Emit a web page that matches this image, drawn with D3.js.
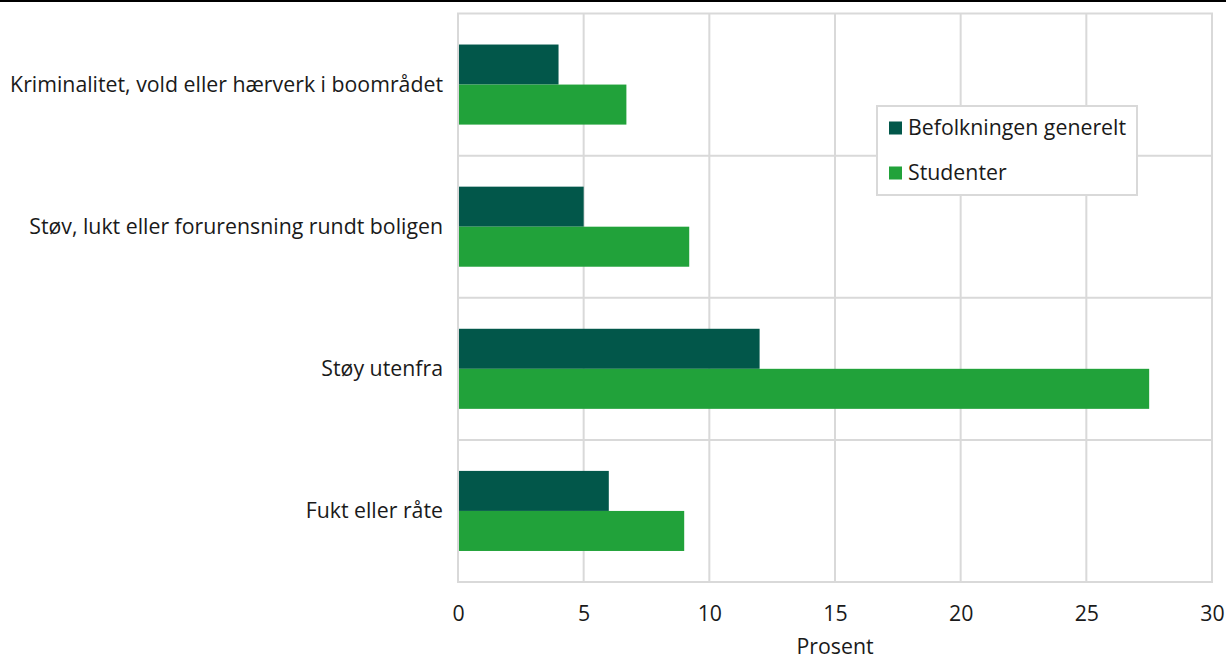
<!DOCTYPE html>
<html><head><meta charset="utf-8">
<script src="https://cdn.jsdelivr.net/npm/d3@7"></script>
<style>
html,body{margin:0;padding:0;background:#fff;}
svg{display:block;font-family:"Open Sans",sans-serif;}
</style></head>
<body><svg id="c" width="1226" height="659"></svg>
<script>
const categories = ["Kriminalitet, vold eller hærverk i boområdet","Støv, lukt eller forurensning rundt boligen","Støy utenfra","Fukt eller råte"];
const seriesNames = ["Befolkningen generelt","Studenter"];
const befolkning = [4.0, 5.0, 12.0, 6.0];
const studenter = [6.7, 9.2, 27.5, 9.0];
const xTicks = [0,5,10,15,20,25,30];
const axisTitle = "Prosent";
const colors = ["#02574a","#21a23a"];

(function(){
const FS = 21.3;
const svg = d3.select("#c");
const mLeft = 458, mRight = 1212, mTop = 13.5, mBottom = 582;
const x = d3.scaleLinear().domain([0,30]).range([mLeft,mRight]);
const y = d3.scaleBand().domain(categories).range([mTop,mBottom]).padding(0);
const y1 = d3.scaleBand().domain(seriesNames).range([0,y.bandwidth()]).paddingInner(0).paddingOuter(0.775);
const values = [befolkning, studenter];

svg.append("rect").attr("x",0).attr("y",0).attr("width",1226).attr("height",2).attr("fill","#000");

const grid = "#d9d9d9";
svg.append("g").selectAll("line").data(xTicks).join("line")
  .attr("x1",d=>x(d)).attr("x2",d=>x(d)).attr("y1",mTop).attr("y2",mBottom)
  .attr("stroke",grid).attr("stroke-width",2);
const hb = [mTop].concat(categories.map(c=>y(c)+y.bandwidth()));
svg.append("g").selectAll("line").data(hb).join("line")
  .attr("x1",mLeft-1).attr("x2",mRight+1).attr("y1",d=>d).attr("y2",d=>d)
  .attr("stroke",grid).attr("stroke-width",2);

seriesNames.forEach((s,si)=>{
  svg.append("g").selectAll("rect").data(categories).join("rect")
    .attr("x",x(0)+1)
    .attr("y",c=>y(c)+y1(s))
    .attr("width",(c,i)=>x(values[si][i])-x(0)-1)
    .attr("height",y1.bandwidth())
    .attr("fill",colors[si]);
});

svg.append("g").selectAll("text").data(categories).join("text")
  .attr("x",mLeft-15).attr("y",c=>y(c)+y.bandwidth()/2)
  .attr("dy","0.35em").attr("text-anchor","end")
  .attr("font-size",FS).attr("fill","#1a1a1a").text(d=>d);

const xa = svg.append("g").attr("transform",`translate(0,${mBottom})`)
  .call(d3.axisBottom(x).tickValues(xTicks).tickSize(0).tickPadding(24).tickFormat(d3.format("d")));
xa.select(".domain").remove();
xa.selectAll("text").attr("font-size",FS).attr("fill","#1a1a1a").attr("font-family","Open Sans");

svg.append("text").attr("x",(mLeft+mRight)/2).attr("y",654)
  .attr("text-anchor","middle").attr("font-size",FS).attr("fill","#1a1a1a").text(axisTitle);

const lg = svg.append("g");
lg.append("rect").attr("x",877).attr("y",106).attr("width",260).attr("height",89)
  .attr("fill","#fff").attr("stroke",grid).attr("stroke-width",2);
seriesNames.forEach((s,i)=>{
  const cy = 128 + i*45;
  lg.append("rect").attr("x",889).attr("y",cy-6.5).attr("width",13).attr("height",13).attr("fill",colors[i]);
  lg.append("text").attr("x",908).attr("y",cy).attr("dy","0.35em").attr("font-size",FS).attr("fill","#1a1a1a").text(s);
});
})();
</script></body></html>
